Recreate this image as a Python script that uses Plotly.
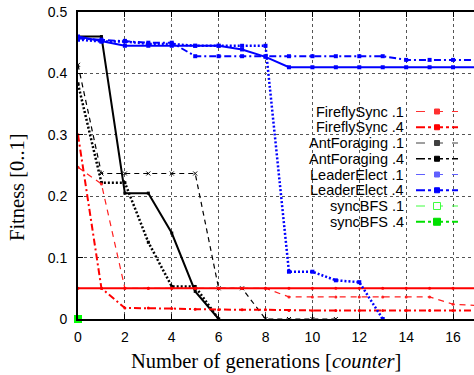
import plotly.graph_objects as go

# ---------------- data ----------------
gens = [0, 1, 2, 3, 4, 5, 6, 7, 8, 9, 10, 11, 12, 13, 14, 15, 16, 17]

firefly_01 = [0.247, 0.22, 0.05, 0.05, 0.05, 0.05, 0.05, 0.05, 0.05, 0.036, 0.036, 0.036, 0.036, 0.036, 0.036, 0.036, 0.024, 0.022]
firefly_04 = [0.30, 0.05, 0.018, 0.018, 0.017, 0.016, 0.015, 0.015, 0.015, 0.014, 0.014, 0.014, 0.014, 0.014, 0.014, 0.014, 0.014, 0.014]
firefly_ref = [0.05, 0.05, 0.05, 0.05, 0.05, 0.05, 0.05, 0.05, 0.05, 0.05, 0.05, 0.05, 0.05, 0.05, 0.05, 0.05, 0.05, 0.05]

ant_01 = [0.414, 0.237, 0.237, 0.237, 0.237, 0.237, 0.05, 0.05, 0.0, 0.0, 0.0, 0.0]
ant_04 = [0.46, 0.46, 0.205, 0.205, 0.14, 0.045, 0.0]
ant_04b = [0.383, 0.222, 0.222, 0.125, 0.053, 0.053, 0.0]

leader_a = [0.46, 0.452, 0.445, 0.445, 0.445, 0.445, 0.445, 0.439, 0.427, 0.41, 0.41, 0.41, 0.41, 0.41, 0.41, 0.41, 0.41, 0.41]
leader_b = [0.457, 0.455, 0.453, 0.45, 0.45, 0.428, 0.428, 0.428, 0.428, 0.428, 0.428, 0.428, 0.428, 0.428, 0.422, 0.422, 0.422, 0.422]
leader_c = [0.455, 0.452, 0.452, 0.448, 0.448, 0.445, 0.445, 0.445, 0.445, 0.077, 0.077, 0.063, 0.06, 0.0]

syncbfs = [0.0]

x_ticks = [0, 2, 4, 6, 8, 10, 12, 14, 16]
y_ticks = [0, 0.1, 0.2, 0.3, 0.4, 0.5]
y_tick_text = ["0", "0.1", "0.2", "0.3", "0.4", "0.5"]

legend_labels = ["FireflySync .1", "FireflySync .4", "AntForaging .1", "AntForaging .4",
                 "LeaderElect .1", "LeaderElect .4", "syncBFS .1", "syncBFS .4"]
legend_colors = ["#ff3030", "#ff0000", "#404040", "#000000", "#6060ff", "#0000ff", "#40ff40", "#00e000"]
legend_dash = ["dash", "dashdot", "dash", "dashdot", "dash", "dashdot", "dash", "dashdot"]
legend_width = [1, 2, 1, 1.5, 1, 2, 1, 2]

# ---------------- figure ----------------
fig = go.Figure()

def add(name, xs, ys, color, dash, width, msym, msize):
    fig.add_trace(go.Scatter(
        x=xs, y=ys, name=name, mode="lines+markers",
        line=dict(color=color, dash=dash, width=width),
        marker=dict(symbol=msym, size=msize, color=color),
        cliponaxis=True,
    ))

add("AntForaging .1", gens[:len(ant_01)], ant_01, "#000000", "5px,4px", 1.2, "x-thin-open", 4)
add("AntForaging .4", gens[:len(ant_04)], ant_04, "#000000", "solid", 2, "square", 3)
add("AntForaging .4b", gens[:len(ant_04b)], ant_04b, "#000000", "2px,2px", 2.5, "square", 3)
add("FireflySync .1", gens, firefly_01, "#ff2020", "6px,5px", 1.2, "circle", 3)
add("FireflySync .4", gens, firefly_04, "#ff0000", "7px,3px,2px,3px", 2, "circle", 3)
add("FireflySync ref", gens, firefly_ref, "#ff0000", "solid", 2, "circle", 3)
add("LeaderElect .4", gens, leader_a, "#0000ff", "solid", 2, "square", 4)
add("LeaderElect .4b", gens, leader_b, "#0000ff", "7px,3px,2px,3px", 2, "square", 4)
add("LeaderElect .1", gens[:len(leader_c)], leader_c, "#0000ff", "2px,2px", 2.5, "square", 4)
fig.add_trace(go.Scatter(x=gens[:len(syncbfs)], y=syncbfs, name="syncBFS .4", mode="markers",
                         marker=dict(symbol="square", size=8, color="#00ff00"), cliponaxis=False))

# plot geometry (px)
L, T, B, W, H = 78, 12, 56, 474, 375
pw = W - L
ph = H - T - B

def px_x(px):
    return (px - L) / pw

def px_y(py):
    return (H - B - py) / ph

shapes = []
# white legend area (hides grid)
shapes.append(dict(type="rect", xref="paper", yref="paper",
                   x0=px_x(273), x1=1.02, y0=px_y(230), y1=px_y(103),
                   fillcolor="white", line=dict(width=0), layer="between"))

annotations = []
row0, dy = 111.5, 15.75
for i, lab in enumerate(legend_labels):
    py = row0 + dy * i
    annotations.append(dict(text=lab, xref="paper", yref="paper", x=px_x(406), y=px_y(py),
                            xanchor="right", yanchor="middle", showarrow=False,
                            font=dict(family="Liberation Sans, Arial", size=14.5, color="black")))
    shapes.append(dict(type="line", xref="paper", yref="paper",
                       x0=px_x(416), x1=px_x(458), y0=px_y(py), y1=px_y(py),
                       line=dict(color=legend_colors[i], dash=legend_dash[i], width=legend_width[i])))
    s = 2.5 if i < 6 else 3.5
    shapes.append(dict(type="rect", xref="paper", yref="paper",
                       x0=px_x(437 - s), x1=px_x(437 + s), y0=px_y(py - s), y1=px_y(py + s),
                       fillcolor="white" if i == 6 else legend_colors[i],
                       line=dict(color=legend_colors[i], width=1)))

annotations.append(dict(text="Number of generations [<i>counter</i>]", xref="paper", yref="paper",
                        x=px_x(266), y=px_y(361), xanchor="center", yanchor="middle", showarrow=False,
                        font=dict(family="Liberation Serif, Times New Roman", size=20.5, color="black")))
annotations.append(dict(text="Fitness [0..1]", xref="paper", yref="paper",
                        x=px_x(17), y=px_y(187), xanchor="center", yanchor="middle", showarrow=False,
                        textangle=-90,
                        font=dict(family="Liberation Serif, Times New Roman", size=20.5, color="black")))

fig.update_layout(
    width=W, height=H,
    margin=dict(l=L, r=0, t=T, b=B, pad=0),
    plot_bgcolor="white", paper_bgcolor="white",
    showlegend=False,
    shapes=shapes, annotations=annotations,
    font=dict(family="Liberation Sans, Arial", size=14, color="black"),
)
fig.update_xaxes(range=[0, (W - L) / 23.44], tickvals=x_ticks, ticks="inside", ticklen=5, tickwidth=1,
                 tickcolor="black", showline=True, linecolor="black", linewidth=2, mirror="ticks",
                 showgrid=True, gridcolor="#555555", griddash="dot", gridwidth=1, zeroline=False,
                 tickfont=dict(size=14), ticklabelstandoff=4)
fig.update_yaxes(range=[0, 0.5], tickvals=y_ticks, ticktext=y_tick_text, ticks="inside", ticklen=5,
                 tickwidth=1, tickcolor="black", showline=True, linecolor="black", linewidth=2,
                 showgrid=True, gridcolor="#555555", griddash="dot", gridwidth=1, zeroline=False,
                 tickfont=dict(size=14), ticklabelstandoff=6)

fig.write_html("out.html")
